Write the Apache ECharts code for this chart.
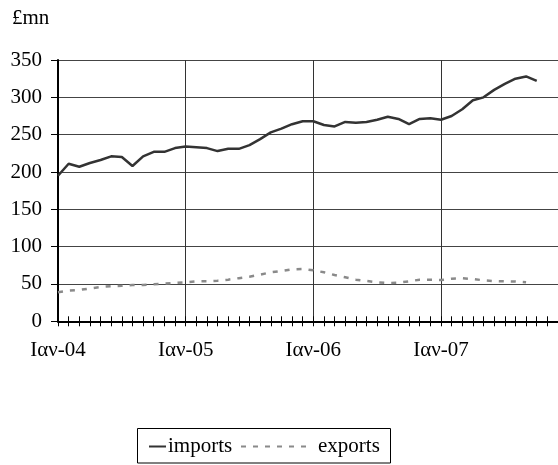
<!DOCTYPE html>
<html>
<head>
<meta charset="utf-8">
<script src="https://cdn.jsdelivr.net/npm/echarts@6/dist/echarts.min.js"></script>
<style>html,body{margin:0;padding:0;background:#fff;}#c{width:558px;height:465px;}</style>
</head>
<body>
<div id="c"></div>
<script>
// Month names (Greek) and years used to build the category labels
var monthNames = ['Ιαν','Φεβ','Μαρ','Απρ','Μαϊ','Ιουν','Ιουλ','Αυγ','Σεπ','Οκτ','Νοε','Δεκ'];
var years = ['04','05','06','07'];
var categories = [];
years.forEach(function(y){ monthNames.forEach(function(m){ categories.push(m + '-' + y); }); });

// £mn, monthly, Jan-04 ... Oct-07
var imports = [195,211,207,212,216,221,220,208,221,227,227,232,
               234,233,232,228,231,231,236,244,253,258,264,268,
               268,263,261,267,266,267,270,274,271,264,271,272,
               270,275,284,296,300,310,318,325,328,322];
// £mn, monthly, Jan-04 ... Sep-07
var exports = [39,41,42,44,46,47,47.5,48.6,48.6,49.7,50.4,51.3,
               52.4,53.5,53.5,54.4,55.8,57.8,59.8,62.5,65.6,67.4,69.6,70,
               68.3,65.6,62,58.9,55.8,54,52.2,51.3,51.7,53.5,55.8,55.8,
               55.3,57,57.6,56.6,54.9,53.8,53.5,53.3,52.2];
var yTicks = [0,50,100,150,200,250,300,350];

var font = '"Liberation Serif", "Times New Roman", serif';
var chart = echarts.init(document.getElementById('c'), null, {renderer:'canvas'});
chart.setOption({
  animation: false,
  backgroundColor: '#ffffff',
  title: {text: '£mn', left: 7, top: 3, textStyle: {fontFamily: font, fontSize: 21, fontWeight: 'normal', color: '#000'}},
  grid: {left: 58, right: -4, top: 60, bottom: 143.7, containLabel: false},
  legend: [
    {data: ['imports'], left: 143, top: 431, itemWidth: 17, itemHeight: 14, itemGap: 0,
     itemStyle: {opacity: 0},
     textStyle: {fontFamily: font, fontSize: 21, color: '#000', padding: [0,0,0,-3]}},
    {data: ['exports'], left: 235, top: 431, itemWidth: 70, itemHeight: 14, itemGap: 0,
     itemStyle: {opacity: 0},
     textStyle: {fontFamily: font, fontSize: 21, color: '#000', padding: [0,0,0,2]}}
  ],
  graphic: [{type: 'rect', shape: {x: 137.5, y: 428.5, width: 253, height: 34.5}, style: {fill: 'none', stroke: '#000', lineWidth: 1}, silent: true}],
  xAxis: [{
    type: 'category', data: categories, boundaryGap: false,
    axisLine: {lineStyle: {color: '#000', width: 2}},
    axisTick: {show: true, inside: true, length: 5, interval: 0, lineStyle: {color: '#000', width: 1}},
    axisLabel: {interval: function(i){ return i % 12 === 0; }, margin: 19, fontFamily: font, fontSize: 21, color: '#000'},
    splitLine: {show: true, interval: function(i){ return i % 12 === 0 && i > 0; }, lineStyle: {color: '#333', width: 1}}
  }, {
    type: 'category', data: categories, boundaryGap: false, position: 'bottom',
    axisLine: {show: false},
    axisTick: {show: true, inside: false, length: 5, interval: 0, lineStyle: {color: '#000', width: 1}},
    axisLabel: {show: false}, splitLine: {show: false}
  }],
  yAxis: {
    type: 'value', min: 0, max: 350, interval: 50,
    axisLine: {show: true, lineStyle: {color: '#000', width: 2}},
    axisTick: {show: true, length: 7, lineStyle: {color: '#000', width: 1}},
    axisLabel: {margin: 16, fontFamily: font, fontSize: 21, color: '#000',
      formatter: function(v){ return yTicks.indexOf(v) >= 0 ? String(v) : ''; }},
    splitLine: {show: true, lineStyle: {color: '#444', width: 1}}
  },
  series: [
    {name: 'imports', type: 'line', data: imports, symbol: 'none', smooth: false,
     lineStyle: {color: '#333', width: 2.5}, itemStyle: {color: '#333'}, z: 3},
    {name: 'exports', type: 'line', data: exports, symbol: 'none', smooth: false,
     lineStyle: {color: '#8a8a8a', width: 2.5, type: [5,7]}, itemStyle: {color: '#8a8a8a'}, z: 2}
  ]
});
</script>
</body>
</html>
